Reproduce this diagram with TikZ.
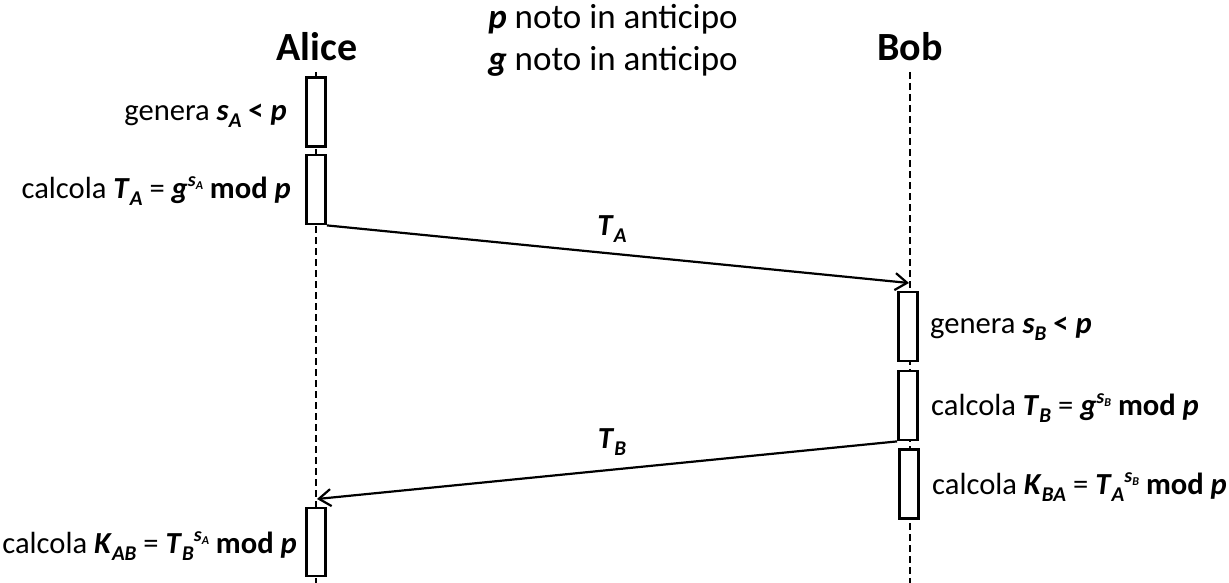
\documentclass[tikz,border=0pt]{standalone}
\usepackage{fontspec}
\setmainfont{Carlito}
\usetikzlibrary{arrows.meta}
\newcommand\bi[1]{\textbf{\textit{#1}}}
\newcommand\mysub[1]{\raisebox{-0.22em}{\fontsize{21}{21}\selectfont\bi{#1}}}
\newcommand\mysup[1]{\raisebox{0.38em}{\fontsize{20}{20}\selectfont\bi{s}\raisebox{-0.15em}{\fontsize{12}{12}\selectfont\bi{#1}}}}
\begin{document}
\begin{tikzpicture}[x=1pt,y=-1pt,
  lifeline/.style={dashed,dash pattern=on 7pt off 4pt,line width=1.7pt},
  act/.style={draw,line width=2.8pt,fill=white,minimum width=19pt,inner sep=0pt},
  msg/.style={line width=2.2pt,-{Straight Barb[length=12pt,width=17pt,line width=2.2pt]}},
  lbl/.style={font=\fontsize{30.6}{36}\selectfont,inner sep=0pt},
  toplbl/.style={font=\fontsize{35}{40}\selectfont,inner sep=0pt},
  actor/.style={font=\fontsize{40}{44}\selectfont\bfseries,inner sep=0pt}]
\useasboundingbox (0,0) rectangle (1229,583);
% actors
\node[actor] (alice) at (317,47) {Alice};
\node[actor] (bob) at (910,47) {Bob};
\node[toplbl,anchor=center] (p) at (613,19) {\bi{p} noto in anticipo};
\node[toplbl,anchor=center] (g) at (613,61) {\bi{g} noto in anticipo};
% lifelines
\coordinate (atop) at (316,72);
\coordinate (abot) at (316,583);
\coordinate (btop) at (910,72);
\coordinate (bbot) at (910,583);
\draw[lifeline] (atop) -- (abot);
\draw[lifeline] (btop) -- (bbot);
% activation boxes
\node[act,minimum height=69pt] (a1) at (316,112) {};
\node[act,minimum height=69pt] (a2) at (316,189.5) {};
\node[act,minimum height=68pt] (a3) at (316,542) {};
\node[act,minimum height=69pt] (b1) at (908,326.5) {};
\node[act,minimum height=69pt] (b2) at (908,405.5) {};
\node[act,minimum height=69pt] (b3) at (909,484) {};
% labels
\node[lbl,anchor=east] (la1) at (287,116) {genera \bi{s}\mysub{A} \textbf{<} \bi{p}};
\node[lbl,anchor=east] (la2) at (291,191) {calcola \bi{T}\mysub{A} = \bi{g}\mysup{A} \textbf{mod} \bi{p}};
\node[lbl,anchor=east] (la3) at (297,546) {calcola \bi{K}\mysub{AB} = \bi{T}\mysub{B}\mysup{A} \textbf{mod} \bi{p}};
\node[lbl,anchor=west] (lb1) at (930,329) {genera \bi{s}\mysub{B} \textbf{<} \bi{p}};
\node[lbl,anchor=west] (lb2) at (931,408) {calcola \bi{T}\mysub{B} = \bi{g}\mysup{B} \textbf{mod} \bi{p}};
\node[lbl,anchor=west] (lb3) at (932,487) {calcola \bi{K}\mysub{BA} = \bi{T}\mysub{A}\mysup{B} \textbf{mod} \bi{p}};
% messages
\coordinate (ta) at (909,283);
\coordinate (tb) at (317,499);
\draw[msg] (a2.south east) -- (ta);
\draw[msg] (b2.south west) -- (tb);
\node[lbl] (lta) at (612,229) {\bi{T}\mysub{A}};
\node[lbl] (ltb) at (612,442) {\bi{T}\mysub{B}};
\end{tikzpicture}
\end{document}
